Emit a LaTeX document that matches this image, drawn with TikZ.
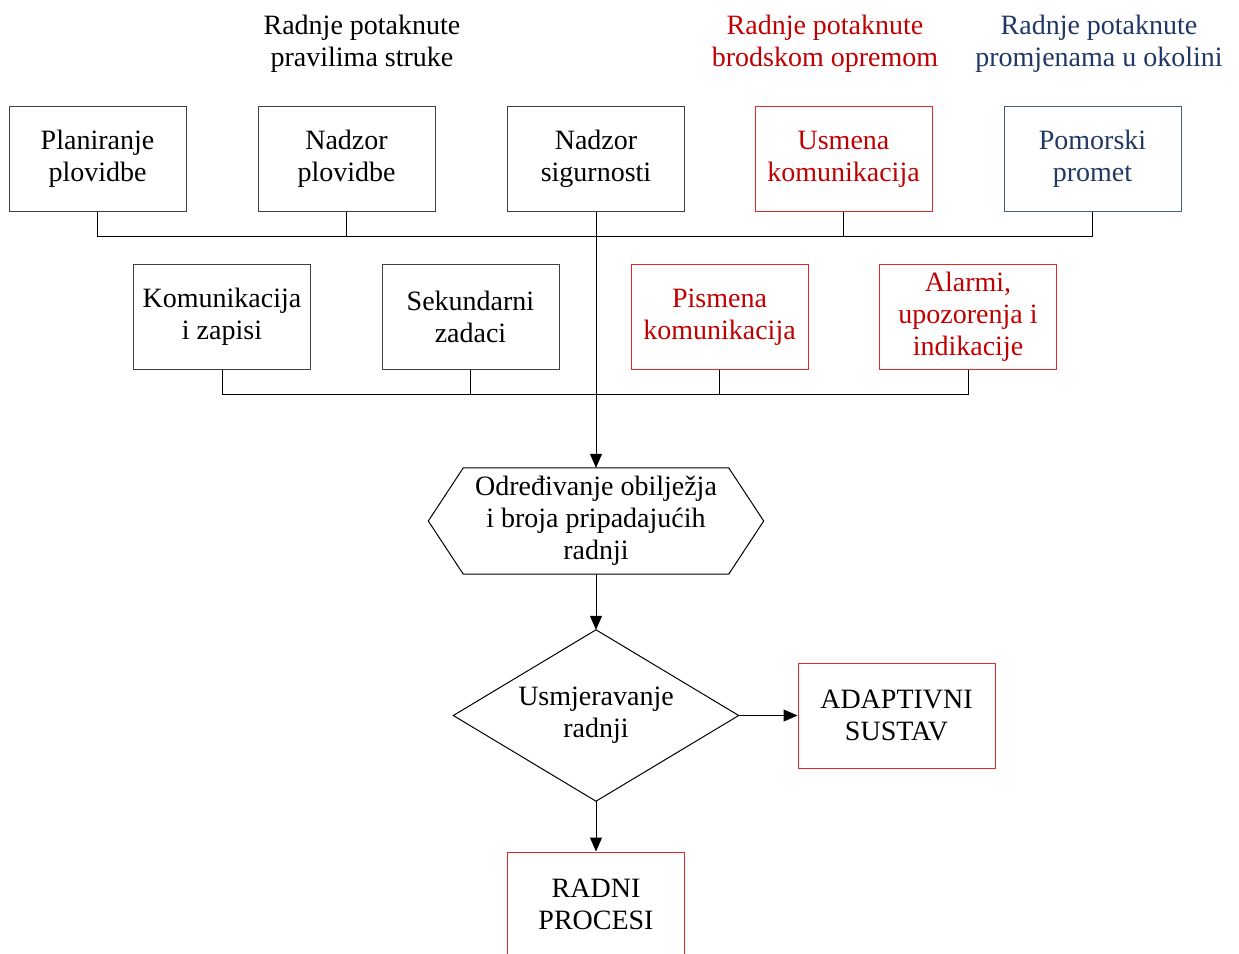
\documentclass[tikz,border=0pt]{standalone}
\usepackage{fontspec}
\setmainfont{Liberation Serif}
\usetikzlibrary{arrows.meta}

\definecolor{boxgray}{RGB}{64,64,64}
\definecolor{redline}{RGB}{232,40,40}
\definecolor{redtext}{RGB}{192,0,0}
\definecolor{blueline}{RGB}{68,94,140}
\definecolor{bluetext}{RGB}{31,56,100}

\tikzset{
  base/.style={font=\fontsize{28}{32}\selectfont, align=center, inner sep=0pt},
  box/.style={base, draw=boxgray, line width=1pt, minimum width=177pt, minimum height=105pt},
  redbox/.style={box, draw=redline, text=redtext},
  redplain/.style={box, draw=redline},
  bluebox/.style={box, draw=blueline, text=bluetext},
  title/.style={base},
  outline/.style={line width=1pt, black},
  wire/.style={line width=1pt, black},
  arrow/.style={wire, -{Triangle[length=14pt,width=12pt]}}
}

\begin{document}
\begin{tikzpicture}[x=1pt,y=-1pt]
\useasboundingbox (0,0) rectangle (1239,953);

% group headings
\node[title] (t1) at (362,44) {Radnje potaknute\\pravilima struke};
\node[title, text=redtext] (t2) at (825,44) {Radnje potaknute\\brodskom opremom};
\node[title, text=bluetext] (t3) at (1099,44) {Radnje potaknute\\promjenama u okolini};

% upper row of sources
\node[box] (p1) at (97.5,159) {Planiranje\\plovidbe};
\node[box, minimum height=105pt] (p2) at (346.5,159) {Nadzor\\plovidbe};
\node[box] (p3) at (596,159) {Nadzor\\sigurnosti};
\node[redbox] (p4) at (843.5,159) {Usmena\\komunikacija};
\node[bluebox] (p5) at (1092.5,159) {Pomorski\\promet};

% lower row of sources
\node[box] (q1) at (222,317) {Komunikacija\\i zapisi};
\node[box] (q2) at (470.5,317) {Sekundarni\\zadaci};
\node[redbox] (q3) at (719.5,317) {Pismena\\komunikacija};
\node[redbox] (q4) at (968,317) {Alarmi,\\upozorenja i\\indikacije};

% collecting buses
\coordinate (bt) at (0,236);
\coordinate (bb) at (0,394);
\draw[wire] (p1.south) -- (p1.south |- bt) -- (p5.south |- bt) -- (p5.south);
\foreach \n in {p2,p4} \draw[wire] (\n.south) -- (\n.south |- bt);
\draw[wire] (q1.south) -- (q1.south |- bb) -- (q4.south |- bb) -- (q4.south);
\foreach \n in {q2,q3} \draw[wire] (\n.south) -- (\n.south |- bb);

% hexagonal processing step
\node[base, minimum width=265pt, minimum height=106pt] (hex) at (596,521)
  {Određivanje obilježja\\i broja pripadajućih\\radnji};
\draw[outline] (hex.north west) -- (hex.north east) -- ([xshift=35pt]hex.east)
  -- (hex.south east) -- (hex.south west) -- ([xshift=-35pt]hex.west) -- cycle;

\draw[arrow] (p3.south) -- (hex.north);

% decision
\node[base, minimum width=285pt, minimum height=171pt] (dec) at (596,715.5)
  {Usmjeravanje\\radnji};
\draw[outline] (dec.north) -- (dec.east) -- (dec.south) -- (dec.west) -- cycle;
\draw[arrow] (hex.south) -- (dec.north);

% outputs
\node[redplain, minimum width=197pt] (ad) at (896.5,715.5) {ADAPTIVNI\\SUSTAV};
\node[redplain] (rp) at (596,904.5) {RADNI\\PROCESI};
\draw[arrow] (dec.east) -- (ad.west);
\draw[arrow] (dec.south) -- (rp.north);
\end{tikzpicture}
\end{document}
